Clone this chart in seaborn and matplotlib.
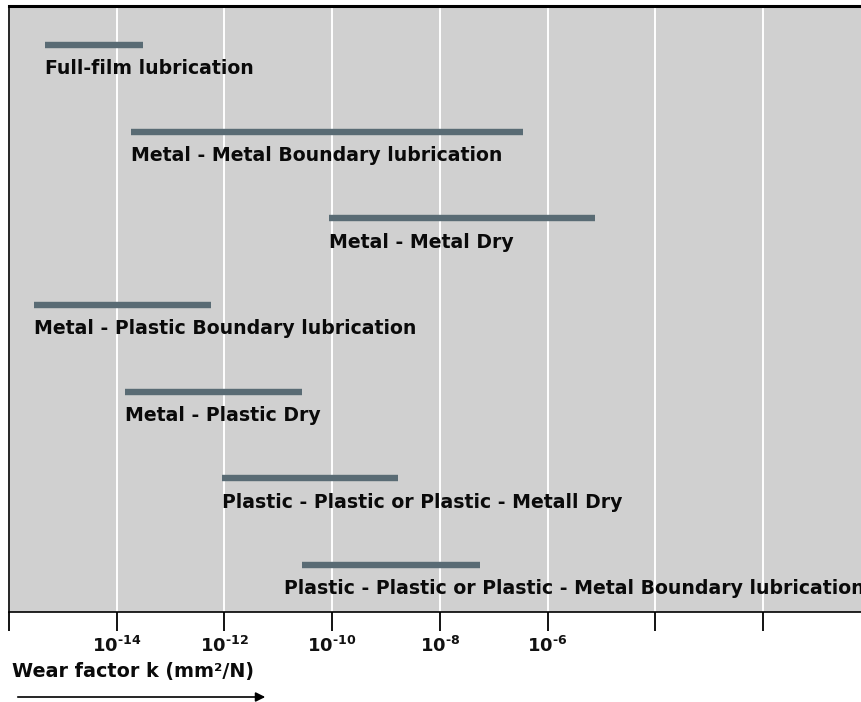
import numpy as np
import pandas as pd
import matplotlib
matplotlib.use("Agg")
import matplotlib.pyplot as plt
import seaborn as sns

# ---- data ----
categories = [
    "Full-film lubrication",
    "Metal - Metal Boundary lubrication",
    "Metal - Metal Dry",
    "Metal - Plastic Boundary lubrication",
    "Metal - Plastic Dry",
    "Plastic - Plastic or Plastic - Metall Dry",
    "Plastic - Plastic or Plastic - Metal Boundary lubrication",
]
k_low = [10**-15.33, 10**-13.74, 10**-10.05, 10**-15.54, 10**-13.84, 10**-12.05, 10**-10.55]
k_high = [10**-13.51, 10**-6.46, 10**-5.11, 10**-12.25, 10**-10.55, 10**-8.77, 10**-7.26]
tick_exponents = [-16, -14, -12, -10, -8, -6, -4, -2]
labeled_exponents = [-14, -12, -10, -8, -6]
xlabel_text = "Wear factor k (mm²/N)"

W, H = 861, 702
sns.set_theme(style="white")
plt.rcParams["font.family"] = ["DejaVu Sans"]
plt.rcParams["mathtext.fontset"] = "dejavusans"

fig = plt.figure(figsize=(W / 100, H / 100), dpi=100)
ax = fig.add_axes([9 / W, 1 - 612 / H, 1 - 9 / W, (612 - 6) / H])
ax.set_facecolor("#d0d0d0")
ax.set_xscale("log")

rows = []
for i, (c, lo, hi) in enumerate(zip(categories, k_low, k_high)):
    rows.append({"category": c, "idx": i, "k": lo, "end": 0})
    rows.append({"category": c, "idx": i, "k": hi, "end": 1})
df = pd.DataFrame(rows)

sns.lineplot(data=df, x="k", y="idx", units="category", estimator=None, sort=False,
             color="#596b74", linewidth=4.6, solid_capstyle="butt", ax=ax, legend=False)

ax.set_xlim(1e-16, 10 ** (-16 + 852 / 53.85))
ax.set_ylim(len(categories) - 1 + 0.54, -0.45)

ax.set_xticks([10.0 ** e for e in tick_exponents])
ax.xaxis.set_minor_locator(matplotlib.ticker.NullLocator())
HY = "\u2010"
ax.set_xticklabels([("$\\mathbf{10^{" + HY + str(abs(e)) + "}}$") if e in labeled_exponents else ""
                    for e in tick_exponents])
ax.tick_params(axis="x", direction="out", length=14, width=1.3, color="black", pad=3,
               labelsize=13, bottom=True, labelcolor="#111111")
ax.grid(True, axis="x", color="white", linewidth=1.4)
ax.grid(False, axis="y")
ax.set_yticks([])
ax.set_xlabel("")
ax.set_ylabel("")
for s in ["left", "bottom"]:
    ax.spines[s].set_color("black")
    ax.spines[s].set_linewidth(1.2)
ax.spines["top"].set_color("black")
ax.spines["top"].set_linewidth(2.2)
ax.spines["right"].set_visible(False)

for i, (c, lo) in enumerate(zip(categories, k_low)):
    dx = -18 if i == len(categories) - 1 else 0
    ax.annotate(c, xy=(lo, i), xytext=(dx * 0.72, -21), textcoords="offset points",
                fontsize=13.6, fontweight="bold", color="#0a0a0a", ha="left", va="baseline",
                annotation_clip=False)

fig.text(12 / W, 1 - 672 / H, xlabel_text, fontsize=13.8, fontweight="bold",
         ha="left", va="center", color="#0a0a0a")
ax.annotate("", xy=(268 / W, 1 - 697 / H), xytext=(15 / W, 1 - 697 / H),
            xycoords="figure fraction", textcoords="figure fraction",
            arrowprops=dict(arrowstyle="-|>", color="black", lw=1.2, mutation_scale=14))

fig.savefig("out.png", dpi=100)
